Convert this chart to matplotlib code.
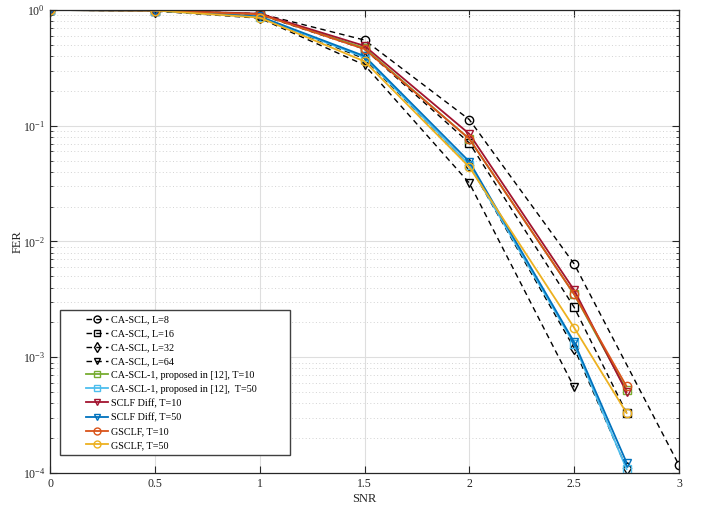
import numpy as np
import matplotlib
matplotlib.use("Agg")
import matplotlib.pyplot as plt
from matplotlib.legend_handler import HandlerLine2D
from matplotlib.ticker import LogLocator, NullFormatter, LogFormatterMathtext

plt.rcParams['font.family'] = ['Liberation Serif', 'DejaVu Serif']
plt.rcParams['mathtext.fontset'] = 'stix'

# ---- data ----
snr_l8 = [0, 0.5, 1, 1.5, 2, 2.5, 3]
snr_full = [0, 0.5, 1, 1.5, 2, 2.5, 2.75]
snr_l64 = [0, 0.5, 1, 1.5, 2, 2.5]

fer_l8 = [1.0, 0.99, 0.93, 0.55, 0.113, 0.0064, 1.17e-4]
fer_l16 = [1.0, 0.99, 0.91, 0.46, 0.071, 0.0027, 3.3e-4]
fer_l32 = [1.0, 0.98, 0.87, 0.38, 0.046, 0.0012, 1.1e-4]
fer_l64 = [1.0, 0.98, 0.85, 0.335, 0.032, 5.5e-4]
fer_cascl1_t10 = [1.0, 0.99, 0.92, 0.47, 0.077, 0.0035, 5.2e-4]
fer_cascl1_t50 = [1.0, 0.99, 0.87, 0.39, 0.046, 0.0013, 1.08e-4]
fer_sclf_t10 = [1.0, 0.99, 0.93, 0.49, 0.085, 0.0038, 5.0e-4]
fer_sclf_t50 = [1.0, 0.99, 0.88, 0.40, 0.049, 0.00135, 1.23e-4]
fer_gsclf_t10 = [1.0, 0.99, 0.92, 0.46, 0.077, 0.0035, 5.6e-4]
fer_gsclf_t50 = [1.0, 0.99, 0.86, 0.36, 0.044, 0.0018, 3.3e-4]

labels = ["CA-SCL, L=8", "CA-SCL, L=16", "CA-SCL, L=32", "CA-SCL, L=64",
          "CA-SCL-1, proposed in [12], T=10", "CA-SCL-1, proposed in [12],  T=50",
          "SCLF Diff, T=10", "SCLF Diff, T=50", "GSCLF, T=10", "GSCLF, T=50"]
xticks = [0, 0.5, 1, 1.5, 2, 2.5, 3]

# ---- figure ----
fig = plt.figure(figsize=(7.04, 5.11), dpi=100)
ax = fig.add_axes([50/704, 1-473/511, 629/704, 463/511])

dash = (4, 3)
ms = 6
lw_d = 1.0
lw_c = 1.3

series = [
    (snr_l8, fer_l8, dict(color='k', ls='--', dashes=dash, marker='o', lw=lw_d)),
    (snr_full, fer_l16, dict(color='k', ls='--', dashes=dash, marker='s', lw=lw_d)),
    (snr_full, fer_l32, dict(color='k', ls='--', dashes=dash, marker='d', lw=lw_d)),
    (snr_l64, fer_l64, dict(color='k', ls='--', dashes=dash, marker='v', lw=lw_d)),
    (snr_full, fer_cascl1_t10, dict(color='#77AC30', marker='s', lw=lw_c)),
    (snr_full, fer_cascl1_t50, dict(color='#4DBEEE', marker='s', lw=lw_c)),
    (snr_full, fer_sclf_t10, dict(color='#A2142F', marker='v', lw=lw_c)),
    (snr_full, fer_sclf_t50, dict(color='#0072BD', marker='v', lw=lw_c)),
    (snr_full, fer_gsclf_t10, dict(color='#D95319', marker='o', lw=lw_c)),
    (snr_full, fer_gsclf_t50, dict(color='#EDB120', marker='o', lw=lw_c)),
]

handles = []
for (x, y, kw), lab in zip(series, labels):
    h, = ax.semilogy(x, y, label=lab, markersize=ms, markerfacecolor='none',
                     markeredgewidth=1.0, **kw)
    handles.append(h)

ax.set_xlim(0, 3)
ax.set_ylim(1e-4, 1)
ax.set_xticks(xticks)
ax.set_xticklabels([('%g' % t) for t in xticks])
ax.yaxis.set_major_locator(LogLocator(base=10, numticks=10))
ax.yaxis.set_minor_locator(LogLocator(base=10, subs=np.arange(2, 10), numticks=50))
ax.yaxis.set_major_formatter(LogFormatterMathtext())
ax.yaxis.set_minor_formatter(NullFormatter())

ax.grid(True, which='major', color='#dedede', lw=0.8, ls='-')
ax.grid(True, which='minor', axis='y', color='#d3d3d3', lw=0.7, ls=(0, (1, 2.5)))
ax.set_axisbelow(True)

ax.tick_params(which='both', direction='in', top=True, right=True, colors='#262626',
               labelsize=8.5)
ax.tick_params(which='major', length=5, width=0.8)
ax.tick_params(which='minor', length=2.5, width=0.6)
for sp in ax.spines.values():
    sp.set_color('#262626')
    sp.set_linewidth(0.9)

ax.set_xlabel('SNR', fontsize=9, color='#262626', labelpad=2)
ax.set_ylabel('FER', fontsize=9, color='#262626', labelpad=0)
ax.yaxis.set_label_coords(-26/629, 0.5)


class RightHandler(HandlerLine2D):
    def create_artists(self, legend, orig_handle, xdescent, ydescent, width,
                       height, fontsize, trans):
        frac = 0.5
        arts = super().create_artists(legend, orig_handle,
                                      xdescent - width * (1 - frac), ydescent,
                                      width * frac, height, fontsize, trans)
        for a in arts:
            if a.get_marker() not in (None, 'None', ''):
                a.set_markersize(5)
        return arts


hm = {h: RightHandler(numpoints=1) for h in handles}
leg = ax.legend(handles=handles, loc='lower left',
                bbox_to_anchor=(10/629, 18/463, 230/629, 0), mode='expand',
                borderaxespad=0, fontsize=7.3, handlelength=4.2, handletextpad=0.3,
                labelspacing=0.47, fancybox=False, framealpha=1, edgecolor='#404040',
                borderpad=0.5, handler_map=hm)
leg.get_frame().set_linewidth(1.0)

fig.savefig('out.png', dpi=100)
